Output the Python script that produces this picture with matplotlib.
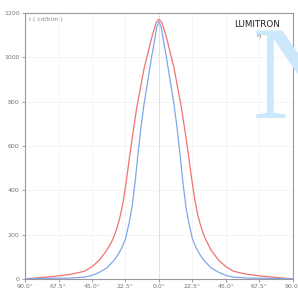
import matplotlib.pyplot as plt

red_angles = [-90, -80, -70, -60, -55, -50, -45, -40, -35, -32, -30, -28, -26, -24, -22, -20, -18, -15, -10,
              -5, -2, 0, 2, 5, 10, 15, 18, 20, 22, 24, 26, 28, 30, 32, 35, 40, 45, 50, 55, 60, 70, 80, 90]
red = [0, 6, 12, 20, 27, 35, 55, 85, 130, 165, 195, 235, 285, 350, 440, 540, 635, 770, 950,
       1085, 1155, 1172, 1155, 1090, 955, 775, 645, 550, 450, 360, 290, 240, 200, 170, 130, 85, 55, 35, 27, 20, 12, 6, 0]

blue_angles = [-90, -80, -70, -60, -50, -45, -40, -35, -30, -27.5, -25, -22.5, -20, -18, -16, -14, -12,
               -10, -7, -5, -3, -1.5, 0, 1.5, 3, 5, 7, 10, 12, 14, 16, 18, 20, 22.5, 25, 27.5, 30,
               35, 40, 45, 50, 60, 70, 80, 90]
blue = [0, 2, 3, 4, 8, 16, 30, 50, 85, 110, 140, 180, 255, 330, 440, 570, 690,
        790, 915, 1000, 1075, 1135, 1160, 1135, 1075, 1000, 915, 790, 690, 570, 440, 330, 255, 180, 140, 110, 85,
        50, 30, 16, 8, 4, 3, 2, 0]

xticks = [-90, -67.5, -45, -22.5, 0, 22.5, 45, 67.5, 90]
xlabels = ["90.0°", "67.5°", "45.0°", "22.5°", "0.0°", "22.5°", "45.0°", "67.5°", "90.0°"]
yticks = [0, 200, 400, 600, 800, 1000, 1200]

fig = plt.figure(figsize=(2.98, 2.93), dpi=100)
ax = fig.add_axes([0.084, 0.048, 0.899, 0.908])

ax.plot(red_angles, red, color="#f07272", lw=0.9)
ax.plot(blue_angles, blue, color="#80a6ea", lw=0.9)
ax.axvline(0, color="#c4c4c4", lw=0.7, ls=(0, (1, 1.5)))

ax.set_xlim(-90, 90)
ax.set_ylim(0, 1200)
ax.set_xticks(xticks)
ax.set_xticklabels(xlabels)
ax.set_yticks(yticks)
ax.tick_params(labelsize=4.5, colors="#777777", length=2, width=0.5, pad=2)
ax.grid(True, color="#f0f0f0", lw=0.5)
for s in ax.spines.values():
    s.set_color("#999999")
    s.set_linewidth(0.8)

ax.text(0.015, 0.985, "I ( cd/klm )", transform=ax.transAxes, fontsize=4.5,
        color="#888888", va="top", ha="left")
ax.text(0.95, 0.975, "LUMITRON", transform=ax.transAxes, fontsize=6.3,
        color="#222222", va="top", ha="right")
ax.text(0.87, 0.925, "η", transform=ax.transAxes, fontsize=4.5,
        color="#555555", va="top", ha="center")

fig.text(0.843, 0.597, "N", fontsize=96, color="#cce8fb", family="Liberation Serif",
         ha="left", va="baseline")

fig.savefig("out.png", dpi=100)
